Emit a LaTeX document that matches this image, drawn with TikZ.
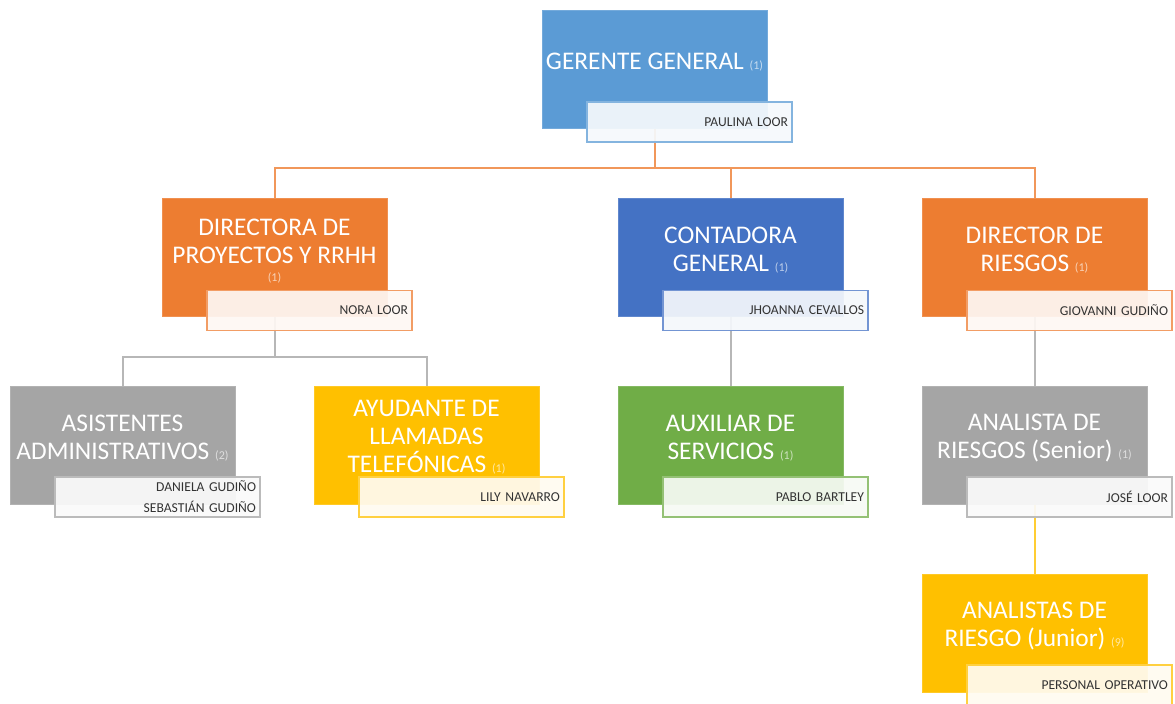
\documentclass[tikz,border=0pt]{standalone}
\usepackage{fontspec}
\setmainfont{Carlito}
\usetikzlibrary{backgrounds}

\definecolor{gerblue}{HTML}{5B9BD5}
\definecolor{conblue}{HTML}{4472C4}
\definecolor{dirorange}{HTML}{ED7D31}
\definecolor{asgray}{HTML}{A5A5A5}
\definecolor{aygold}{HTML}{FFC000}
\definecolor{auxgreen}{HTML}{70AD47}
\definecolor{nametext}{HTML}{333333}

\newcommand{\cnt}[2]{{\fontsize{6}{7}\selectfont\color{#1!35!white}(#2)}}

\tikzset{
  mainbox/.style={fill=#1, draw=#1!85!white, line width=0.4pt,
    minimum width=112.5pt, minimum height=59pt, inner sep=0pt},
  boxtxt/.style={text=white, align=center, inner sep=0pt,
    font=\fontsize{12.7}{14}\selectfont},
  namebox/.style={fill=#1!6!white, fill opacity=0.93, text opacity=1,
    draw=#1!75!white, line width=0.6pt, text=nametext,
    minimum width=102.5pt, minimum height=20pt, inner xsep=2pt, inner ysep=0pt,
    text width=98.5pt, align=right, font=\fontsize{6.8}{10.5}\selectfont},
  orgline/.style={draw=#1, line width=1pt}
}

\begin{document}
\begin{tikzpicture}[x=0.5pt,y=-0.5pt]
  \useasboundingbox (0,0) rectangle (1175,704);

  % gerencia
  \node[mainbox=gerblue] (gg) at (654.5,69) {};
  \node[boxtxt] (gg-t) at (654.5,62) {GERENTE GENERAL \cnt{gerblue}{1}};
  \node[namebox=gerblue] (gg-n) at (689.5,122) {PAULINA LOOR};

  % directores
  \node[mainbox=dirorange] (dp) at (274.5,257) {};
  \node[boxtxt] (dp-t) at (274.5,251) {DIRECTORA DE\\PROYECTOS Y RRHH\\[-5pt]\cnt{dirorange}{1}};
  \node[namebox=dirorange] (dp-n) at (309.5,310.5) {NORA LOOR};

  \node[mainbox=conblue] (cg) at (730.5,257) {};
  \node[boxtxt] (cg-t) at (730.5,250) {CONTADORA\\GENERAL \cnt{conblue}{1}};
  \node[namebox=conblue] (cg-n) at (765.5,310.5) {JHOANNA CEVALLOS};

  \node[mainbox=dirorange] (dr) at (1034.5,257) {};
  \node[boxtxt] (dr-t) at (1034.5,250) {DIRECTOR DE\\RIESGOS \cnt{dirorange}{1}};
  \node[namebox=dirorange] (dr-n) at (1069.5,310.5) {GIOVANNI GUDIÑO};

  % segundo nivel
  \node[mainbox=asgray] (aa) at (122.5,445) {};
  \node[boxtxt] (aa-t) at (122.5,438) {ASISTENTES\\ADMINISTRATIVOS \cnt{asgray}{2}};
  \node[namebox=asgray] (aa-n) at (157.5,497) {DANIELA GUDIÑO\\SEBASTIÁN GUDIÑO};

  \node[mainbox=aygold] (ay) at (426.5,445) {};
  \node[boxtxt] (ay-t) at (426.5,437) {AYUDANTE DE\\LLAMADAS\\TELEFÓNICAS \cnt{aygold}{1}};
  \node[namebox=aygold] (ay-n) at (461.5,497) {LILY NAVARRO};

  \node[mainbox=auxgreen] (au) at (730.5,445) {};
  \node[boxtxt] (au-t) at (730.5,438) {AUXILIAR DE\\SERVICIOS \cnt{auxgreen}{1}};
  \node[namebox=auxgreen] (au-n) at (765.5,497) {PABLO BARTLEY};

  \node[mainbox=asgray] (as) at (1034.5,445) {};
  \node[boxtxt] (as-t) at (1034.5,438) {ANALISTA DE\\RIESGOS (Senior) \cnt{asgray}{1}};
  \node[namebox=asgray] (as-n) at (1069.5,497) {JOSÉ LOOR};

  \node[mainbox=aygold] (aj) at (1034.5,633) {};
  \node[boxtxt] (aj-t) at (1034.5,626) {ANALISTAS DE\\RIESGO (Junior) \cnt{aygold}{9}};
  \node[namebox=aygold] (aj-n) at (1069.5,685) {PERSONAL OPERATIVO};

  % conectores
  \begin{scope}[on background layer]
    \draw[orgline=dirorange!80!white] (gg.south) -- ++(0,40) -| (dp.north);
    \draw[orgline=dirorange!80!white] (gg.south) -- ++(0,40) -| (cg.north);
    \draw[orgline=dirorange!80!white] (gg.south) -- ++(0,40) -| (dr.north);
    \draw[orgline=asgray!80!white] (dp.south) -- ++(0,41) -| (aa.north);
    \draw[orgline=asgray!80!white] (dp.south) -- ++(0,41) -| (ay.north);
    \draw[orgline=asgray!80!white] (cg.south) -- (au.north);
    \draw[orgline=asgray!80!white] (dr.south) -- (as.north);
    \draw[orgline=aygold!80!white] (as.south) -- (aj.north);
  \end{scope}
\end{tikzpicture}
\end{document}
